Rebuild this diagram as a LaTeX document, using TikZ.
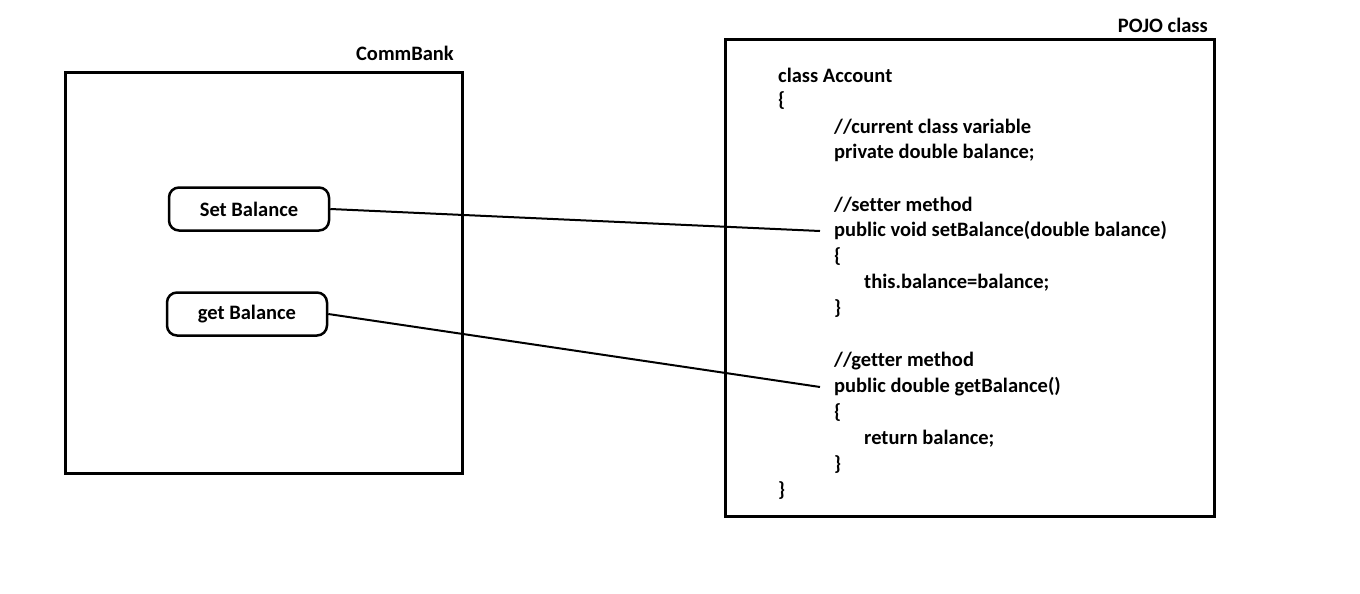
\documentclass[tikz,border=0pt]{standalone}
\usepackage{fontspec}
\setmainfont{Carlito}[Ligatures=NoCommon]
\usepackage{tikz}

\begin{document}
\begin{tikzpicture}[x=1pt, y=-1pt]
		\tikzset{frame/.style={draw, line width = 3pt}}
		\tikzset{method/.style={shape = rectangle, draw, line width = 2.5pt, rounded corners = 10pt, minimum width = 160pt, minimum height = 43pt, font = \fontsize{20.5}{24}\selectfont\bfseries}}
		\tikzset{codeline/.style={anchor = west, inner xsep = 14pt, inner ysep = 0pt, font = \fontsize{20.5}{24}\selectfont\bfseries}}
		\tikzset{title/.style={anchor = east, inner sep = 0pt, font = \fontsize{20.5}{24}\selectfont\bfseries}}
		\useasboundingbox (0, 0) rectangle (1360, 594);
		%frames
		\draw[frame] (65, 73) rectangle (462, 473);
		\draw[frame] (725, 40) rectangle (1214, 516);
		\node[title] (bank) at (454, 53) {CommBank};
		\node[title] (pojo) at (1208, 25) {POJO class};
		%methods
		\node[method] (setb) at (249, 209) {Set Balance};
		\node[method] (getb) at (247, 314) {get Balance};
		%code
		\node[codeline] (cls) at (764, 75) {class Account};
		\node[codeline] (open) at (764, 101) {\{};
		\node[codeline] (cvar) at (820, 127) {//current class variable};
		\node[codeline] (field) at (820, 153) {private double balance;};
		\node[codeline] (scom) at (820, 205) {//setter method};
		\node[codeline] (setter) at (820, 231) {public void setBalance(double balance)};
		\node[codeline] (sopen) at (820, 257) {\{};
		\node[codeline] (sbody) at (850, 283) {this.balance=balance;};
		\node[codeline] (sclose) at (820, 309) {\}};
		\node[codeline] (gcom) at (820, 361) {//getter method};
		\node[codeline] (getter) at (820, 387) {public double getBalance()};
		\node[codeline] (gopen) at (820, 413) {\{};
		\node[codeline] (gbody) at (850, 439) {return balance;};
		\node[codeline] (gclose) at (820, 465) {\}};
		\node[codeline] (close) at (764, 491) {\}};
		%connectors
		\draw[line width = 2pt] (setb.east) -- (setter.west);
		\draw[line width = 2pt] (getb.east) -- (getter.west);
\end{tikzpicture}
\end{document}
